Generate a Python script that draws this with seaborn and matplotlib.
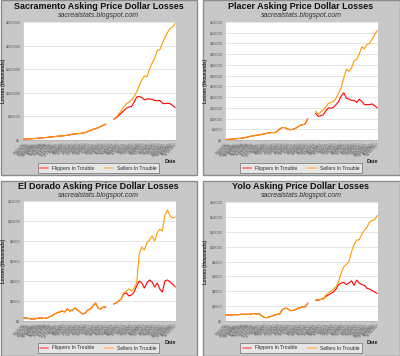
import matplotlib
matplotlib.use('Agg')
import matplotlib.pyplot as plt
from matplotlib.patches import Rectangle
from matplotlib.lines import Line2D
import seaborn as sns
import numpy as np
import pandas as pd

nan = np.nan

# weekly dates on the x axis (labels are unreadable in the source, so approximate)
dates = pd.date_range('2006-10-02', periods=60, freq='7D')
date_labels = ["%d/%d/%d" % (d.month, d.day, d.year) for d in dates]

# values in thousands of dollars; two missing weeks in the middle
sac_early = [1800, 2000, 2300, 2600, 3000, 3400, 3900, 4400, 4900, 5400, 6000, 6600,
             7200, 7800, 8300, 8800, 9300, 10000, 11000, 12200, 13000, 13500, 14000,
             14500, 15800, 18000, 20500, 22500, 24000, 26000, 28500, 31000, 34000]
sac_sellers_late = [44000, 48000, 55000, 62000, 70000, 77000, 80000, 85000, 92000, 102000,
                    115000, 127000, 136000, 134000, 150000, 163000, 173000, 190000, 191000,
                    205000, 217000, 228000, 236000, 240000, 247000]
sac_flippers_late = [44000, 47000, 52000, 57000, 62000, 67000, 70000, 71000, 80000, 91000,
                     92000, 90000, 85000, 87000, 87000, 86000, 84000, 83000, 84000, 78000,
                     77000, 78000, 77000, 73000, 69000]

placer_early = [200, 300, 400, 500, 600, 700, 800, 1000, 1200, 1500, 1800, 2000, 2200, 2400,
                2600, 2800, 3100, 3300, 3500, 3400, 4000, 5000, 5800, 5800, 5200, 4800, 4900,
                5300, 6000, 6800, 7200, 7400, 10000]
placer_sellers_late = [13500, 12000, 13000, 14000, 15500, 17000, 17500, 18000, 19500, 22000,
                       24500, 29000, 33000, 32000, 33500, 37000, 37500, 40000, 43500, 42500,
                       44500, 45000, 47000, 49000, 51000]
placer_flippers_late = [12500, 11000, 11300, 11800, 13500, 15000, 14800, 15200, 16500, 18000,
                        20500, 22000, 19500, 19000, 18500, 18500, 17500, 19000, 18000, 16500,
                        16500, 16500, 16800, 16000, 15000]

eldorado_early = [300, 300, 250, 200, 200, 250, 300, 300, 250, 300, 400, 500, 700, 800, 900,
                  1000, 900, 1200, 1000, 1100, 1300, 1100, 900, 700, 800, 1100, 1200, 1500,
                  1800, 1300, 1200, 1400, 1400]
eldorado_sellers_late = [1700, 1800, 2000, 2200, 2800, 3000, 3200, 3000, 3300, 3800, 6700, 7400,
                         7100, 7800, 8100, 8500, 8000, 8800, 9200, 9000, 10600, 11100, 10500,
                         10300, 10400]
eldorado_flippers_late = [1700, 1800, 2000, 2200, 2700, 2800, 2500, 2600, 2900, 3500, 4000, 3800,
                          3300, 3800, 4100, 3900, 3400, 3800, 3200, 2900, 4000, 4100, 3900,
                          3700, 3400]

yolo_early = [800, 800, 800, 850, 850, 850, 900, 900, 900, 900, 950, 1000, 950, 1000, 700, 500,
              450, 550, 650, 800, 900, 900, 1500, 1700, 1700, 1400, 1400, 1500, 1700, 1800,
              1900, 1900, 2400]
yolo_sellers_late = [2800, 2900, 2900, 2900, 3500, 3800, 4000, 4300, 4600, 5300, 6500, 7300,
                     7600, 8000, 9300, 10300, 10900, 10900, 11700, 12200, 12600, 13300, 13500,
                     13600, 14200]
yolo_flippers_late = [2800, 2800, 2900, 3000, 3300, 3500, 3700, 3900, 4300, 4900, 5100, 5200,
                      4900, 5100, 5400, 4800, 5500, 5100, 4900, 4800, 4400, 4300, 4100, 3900,
                      3700]

gap = [nan, nan]

regions = [
    ("Sacramento", sac_early + gap + sac_flippers_late, sac_early + gap + sac_sellers_late,
     np.arange(0, 250001, 50000)),
    ("Placer", placer_early + gap + placer_flippers_late, placer_early + gap + placer_sellers_late,
     np.arange(0, 55001, 5000)),
    ("El Dorado", eldorado_early + gap + eldorado_flippers_late,
     eldorado_early + gap + eldorado_sellers_late, np.arange(0, 12001, 2000)),
    ("Yolo", yolo_early + gap + yolo_flippers_late, yolo_early + gap + yolo_sellers_late,
     np.arange(0, 16001, 2000)),
]

W, H = 400, 356
# panel frames and plot areas, in pixels from the top left
panels = [(0, 0, 197, 176), (202, 0, 198, 176), (0, 180, 197, 176), (202, 180, 198, 176)]
plots = [(23, 22, 153, 118), (225, 22, 153, 118), (23, 201, 153, 120), (225, 202, 153, 119)]

sns.set_style('white')
plt.rcParams['font.family'] = ['Liberation Sans', 'DejaVu Sans']

fig = plt.figure(figsize=(W / 100, H / 100), dpi=100, facecolor='white')

red = '#FF0000'
orange = '#FF9900'

for (name, flippers, sellers, yticks), (px, py, pw, ph), (ax_x, ax_y, aw, ah) in zip(regions, panels, plots):
    fig.patches.append(Rectangle((px / W + 0.5 / W, 1 - (py + ph - 0.5) / H), (pw - 1) / W,
                                 (ph - 1) / H, transform=fig.transFigure, facecolor='#C8C8C8',
                                 edgecolor='#8C8C8C', linewidth=1.0, zorder=-5))
    ax = fig.add_axes([ax_x / W, 1 - (ax_y + ah) / H, aw / W, ah / H])
    ax.set_facecolor('white')

    rows = []
    for series, vals in (("Flippers In Trouble", flippers), ("Sellers In Trouble", sellers)):
        for i, v in enumerate(vals):
            if not np.isnan(v):
                rows.append({'idx': i, 'value': v, 'series': series, 'seg': 0 if i < 33 else 1})
    df = pd.DataFrame(rows)
    sns.lineplot(data=df, x='idx', y='value', hue='series', units='seg', estimator=None,
                 palette={"Flippers In Trouble": red, "Sellers In Trouble": orange},
                 linewidth=0.8, legend=False, ax=ax)

    ax.set_xlim(-0.2, 59.3)
    ax.set_ylim(yticks[0], yticks[-1])
    ax.set_yticks(yticks)
    ax.set_yticklabels(["$%d" % t for t in yticks], fontsize=2.7, color='#333333')
    ax.set_xticks(range(len(date_labels)))
    ax.set_xticklabels(date_labels, rotation=45, ha='right', rotation_mode='anchor',
                       fontsize=2.4, color='#333333')
    ax.tick_params(axis='both', length=1.2, width=0.3, pad=0.6, colors='#555555')
    ax.yaxis.grid(True, color='#E2E2E2', linewidth=0.6)
    ax.set_axisbelow(True)
    for s in ('top', 'right'):
        ax.spines[s].set_visible(False)
    for s in ('left', 'bottom'):
        ax.spines[s].set_color('#AAAAAA')
        ax.spines[s].set_linewidth(0.4)
    ax.set_xlabel('')
    ax.set_ylabel('')

    cx = (px + pw / 2) / W
    fig.text(cx, 1 - (py + 6.5) / H, name + " Asking Price Dollar Losses",
             ha='center', va='center', fontsize=6.5, fontweight='bold', color='#111111')
    fig.text(cx, 1 - (py + 15.5) / H, "sacrealstats.blogspot.com",
             ha='center', va='center', fontsize=5.0, style='italic', color='#333333')
    fig.text((px + 3.2) / W, 1 - (ax_y + ah / 2) / H, "Losses (thousands)", rotation=90,
             ha='center', va='center', fontsize=3.3, fontweight='bold', color='#222222')
    fig.text((ax_x + aw - 6) / W, 1 - (ax_y + ah + 21) / H, "Date",
             ha='center', va='center', fontsize=3.8, fontweight='bold', color='#222222')

    handles = [Line2D([], [], color='#FF8080', linewidth=1.4),
               Line2D([], [], color='#FFC080', linewidth=1.4)]
    leg = fig.legend(handles, ["Flippers In Trouble", "Sellers In Trouble"], ncol=2,
                     loc='center', bbox_to_anchor=(cx, 1 - (py + 168) / H),
                     fontsize=3.6, frameon=True, fancybox=False, shadow=False,
                     handlelength=1.6, columnspacing=2.2, handletextpad=0.8,
                     borderpad=0.5)
    frame = leg.get_frame()
    frame.set_facecolor('#EEEEEE')
    frame.set_edgecolor('#555555')
    frame.set_linewidth(0.5)

fig.savefig('out.png', dpi=100, facecolor='white')
